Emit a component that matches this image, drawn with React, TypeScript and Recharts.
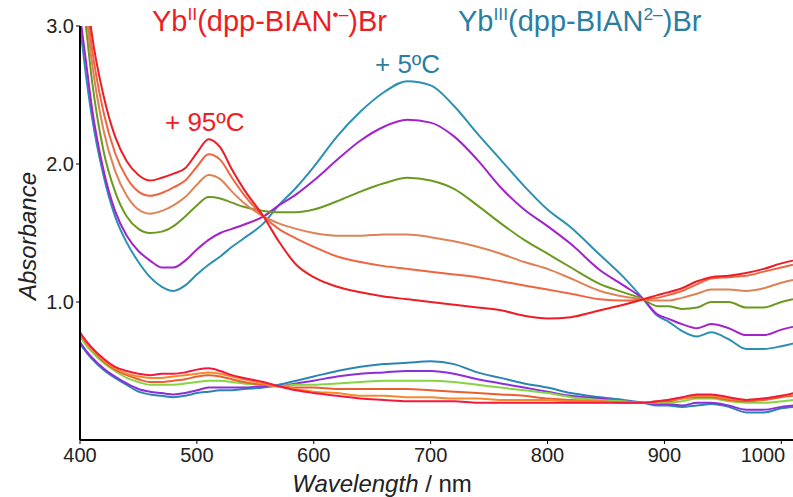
import { Line, LineChart, XAxis, YAxis } from "recharts";

// wavelength grid (nm)
const wavelengths = [
  400, 405, 410, 420, 430, 440, 450, 460, 470, 480, 490, 500, 510, 520, 530,
  540, 557, 570, 585, 600, 620, 640, 660, 680, 700, 720, 740, 760, 780, 800,
  820, 845, 865, 882, 894, 903, 915, 928, 940, 955, 970, 985, 1000, 1010,
];

// upper set (from +95 °C to +5 °C)
const hiRed = [
  3.6, 3.3, 2.95, 2.5, 2.2, 2.02, 1.92, 1.88, 1.9, 1.93, 1.97, 2.08, 2.18,
  2.12, 1.96, 1.82, 1.62, 1.44, 1.27, 1.18, 1.11, 1.07, 1.04, 1.02, 1.0, 0.98,
  0.96, 0.94, 0.9, 0.88, 0.89, 0.94, 0.98, 1.02, 1.05, 1.07, 1.1, 1.15, 1.18,
  1.19, 1.21, 1.24, 1.28, 1.3,
];
const hiOrange = [
  3.5, 3.2, 2.85, 2.38, 2.08, 1.9, 1.8, 1.77, 1.79, 1.83, 1.88, 1.98, 2.07,
  2.03, 1.9, 1.78, 1.62, 1.53, 1.46, 1.4, 1.33, 1.29, 1.26, 1.24, 1.22, 1.2,
  1.18, 1.15, 1.12, 1.09, 1.06, 1.02, 1.01, 1.02, 1.03, 1.05, 1.08, 1.13,
  1.17, 1.18, 1.19, 1.22, 1.25, 1.27,
];
const hiSalmon = [
  3.4, 3.1, 2.75, 2.25, 1.95, 1.77, 1.67, 1.64, 1.66, 1.7, 1.76, 1.85, 1.92,
  1.89, 1.8, 1.72, 1.62, 1.57, 1.53, 1.5, 1.48, 1.48, 1.49, 1.49, 1.47, 1.44,
  1.4, 1.35, 1.29, 1.24, 1.17, 1.08, 1.04, 1.02, 1.01, 1.01, 1.03, 1.06, 1.09,
  1.09, 1.08, 1.1, 1.14, 1.16,
];
const hiOlive = [
  3.3, 3.0, 2.62, 2.1, 1.8, 1.62, 1.53, 1.5, 1.51, 1.55, 1.62, 1.7, 1.76,
  1.75, 1.72, 1.69, 1.66, 1.65, 1.65, 1.67, 1.73, 1.8, 1.86, 1.9, 1.88, 1.82,
  1.7, 1.57, 1.45, 1.35, 1.25, 1.13, 1.07, 1.02, 0.97, 0.97, 0.95, 0.96, 1.0,
  1.0, 0.96, 0.96, 1.0, 1.02,
];
const hiPurple = [
  3.08, 2.75, 2.42, 1.96, 1.66, 1.48, 1.37, 1.3, 1.25, 1.25, 1.3, 1.38, 1.45,
  1.5, 1.53, 1.56, 1.62, 1.7, 1.78, 1.88, 2.03, 2.17, 2.27, 2.32, 2.3, 2.2,
  2.03, 1.83, 1.67, 1.55, 1.42, 1.23, 1.12, 1.02, 0.91, 0.88, 0.84, 0.81,
  0.84, 0.81, 0.76, 0.76, 0.8, 0.82,
];
const hiTeal = [
  3.0, 2.65, 2.35, 1.92, 1.62, 1.43, 1.29, 1.18, 1.11, 1.08, 1.12, 1.2, 1.27,
  1.33, 1.4, 1.46, 1.57, 1.7, 1.83, 1.98, 2.2, 2.38, 2.52, 2.6, 2.57, 2.42,
  2.22, 2.03, 1.84, 1.67, 1.54, 1.34, 1.18, 1.02, 0.9, 0.86, 0.79, 0.75,
  0.78, 0.73, 0.66, 0.66, 0.68, 0.7,
];

// lower set
const loRed = [
  0.78, 0.72, 0.67, 0.59, 0.53, 0.5, 0.48, 0.47, 0.48, 0.48, 0.49, 0.51, 0.52,
  0.5, 0.47, 0.45, 0.42, 0.39, 0.36, 0.34, 0.32, 0.3, 0.29, 0.28, 0.28, 0.28,
  0.27, 0.27, 0.27, 0.27, 0.27, 0.27, 0.27, 0.27, 0.28, 0.29, 0.31, 0.33,
  0.33, 0.31, 0.29, 0.3, 0.32, 0.34,
];
const loOrange = [
  0.77, 0.71, 0.66, 0.58, 0.52, 0.48, 0.46, 0.45, 0.45, 0.46, 0.47, 0.48,
  0.49, 0.48, 0.46, 0.44, 0.41, 0.39, 0.37, 0.35, 0.34, 0.32, 0.32, 0.31,
  0.31, 0.3, 0.3, 0.29, 0.29, 0.29, 0.28, 0.28, 0.27, 0.27, 0.28, 0.29, 0.3,
  0.32, 0.32, 0.3, 0.29, 0.3, 0.32, 0.33,
];
const loCoral = [
  0.77, 0.71, 0.66, 0.57, 0.51, 0.47, 0.44, 0.42, 0.42, 0.43, 0.44, 0.46,
  0.47, 0.46, 0.44, 0.42, 0.4, 0.39, 0.38, 0.38, 0.37, 0.37, 0.37, 0.37,
  0.36, 0.35, 0.34, 0.33, 0.32, 0.3, 0.29, 0.28, 0.27, 0.27, 0.28, 0.28, 0.3,
  0.31, 0.31, 0.29, 0.28, 0.29, 0.31, 0.32,
];
const loGreen = [
  0.75, 0.69, 0.64, 0.56, 0.5, 0.45, 0.42, 0.4, 0.4, 0.4, 0.41, 0.42, 0.43,
  0.43, 0.42, 0.41, 0.4, 0.39, 0.4, 0.4, 0.41, 0.42, 0.43, 0.43, 0.43, 0.42,
  0.4, 0.38, 0.36, 0.34, 0.31, 0.29, 0.28, 0.27, 0.27, 0.27, 0.28, 0.3, 0.3,
  0.28, 0.27, 0.27, 0.28, 0.29,
];
const loPurple = [
  0.71, 0.65, 0.6, 0.52, 0.46, 0.41, 0.37, 0.35, 0.34, 0.33, 0.34, 0.36,
  0.38, 0.38, 0.38, 0.38, 0.39, 0.39, 0.41, 0.43, 0.46, 0.48, 0.49, 0.5, 0.5,
  0.48, 0.44, 0.41, 0.38, 0.35, 0.32, 0.3, 0.28, 0.27, 0.26, 0.26, 0.25,
  0.27, 0.27, 0.25, 0.22, 0.22, 0.24, 0.25,
];
const loTeal = [
  0.7, 0.64, 0.59, 0.51, 0.45, 0.4, 0.35, 0.33, 0.32, 0.31, 0.32, 0.34, 0.35,
  0.36, 0.36, 0.37, 0.38, 0.4, 0.43, 0.46, 0.5, 0.53, 0.55, 0.56, 0.57, 0.55,
  0.49, 0.45, 0.41, 0.38, 0.34, 0.31, 0.29, 0.27, 0.25, 0.25, 0.24, 0.25,
  0.26, 0.24, 0.2, 0.2, 0.23, 0.24,
];

const xTicks = [400, 500, 600, 700, 800, 900, 1000];
const yTicks = [1, 2, 3];

const series = [
  { key: "loTeal", values: loTeal, color: "#2b84b3" },
  { key: "loPurple", values: loPurple, color: "#8c2fd8" },
  { key: "loGreen", values: loGreen, color: "#86d444" },
  { key: "loCoral", values: loCoral, color: "#e8602e" },
  { key: "loOrange", values: loOrange, color: "#f58a2a" },
  { key: "loRed", values: loRed, color: "#f2183e" },
  { key: "hiTeal", values: hiTeal, color: "#2c90b4" },
  { key: "hiPurple", values: hiPurple, color: "#a322cc" },
  { key: "hiOlive", values: hiOlive, color: "#6c991f" },
  { key: "hiSalmon", values: hiSalmon, color: "#df8256" },
  { key: "hiOrange", values: hiOrange, color: "#f0643f" },
  { key: "hiRed", values: hiRed, color: "#ee1c24" },
];

const data = wavelengths.map((w, i) => {
  const row: Record<string, number> = { w };
  series.forEach((s) => (row[s.key] = s.values[i]));
  return row;
});

const RED = "#ee1d23";
const TEAL = "#2a7ea2";
const FONT = "'Liberation Sans', Arial, sans-serif";

const sup = (t: string) => (
  <span style={{ fontSize: "0.6em", position: "relative", top: "-0.65em" }}>
    {t}
  </span>
);

const txt = (left: number, top: number, color: string, size: number) => ({
  position: "absolute" as const,
  left,
  top,
  color,
  fontSize: size,
  lineHeight: 1,
  whiteSpace: "nowrap" as const,
});

// last label sits against the right edge, nudge it in
const XTick = (props: any) => {
  const { x, y, payload } = props;
  const dx = payload.value === 1000 ? -14 : 0;
  return (
    <text
      x={x + dx}
      y={y + 16}
      textAnchor="middle"
      fontSize={20}
      fill="#222"
      fontFamily={FONT}
    >
      {payload.value}
    </text>
  );
};

export default function App() {
  return (
    <div
      style={{
        position: "absolute",
        left: 0,
        top: 0,
        width: 793,
        height: 497,
        background: "#fff",
        fontFamily: FONT,
      }}
    >
      <LineChart
        width={793}
        height={497}
        data={data}
        margin={{ top: 26, right: 0, bottom: 0, left: 0 }}
      >
        <XAxis
          dataKey="w"
          type="number"
          domain={[400, 1010]}
          ticks={xTicks}
          allowDataOverflow
          height={57}
          axisLine={{ stroke: "#000", strokeWidth: 2 }}
          tickLine={{ stroke: "#000" }}
          tickSize={4}
          tick={<XTick />}
        />
        <YAxis
          type="number"
          domain={[0, 3]}
          ticks={yTicks}
          allowDataOverflow
          width={80}
          tickFormatter={(v) => Number(v).toFixed(1)}
          axisLine={{ stroke: "#000", strokeWidth: 2 }}
          tickLine={{ stroke: "#000" }}
          tickSize={4}
          tick={{ fontSize: 20, fill: "#222", fontFamily: FONT }}
        />
        {series.map((s) => (
          <Line
            key={s.key}
            dataKey={s.key}
            type="monotone"
            stroke={s.color}
            strokeWidth={2}
            dot={false}
            isAnimationActive={false}
          />
        ))}
      </LineChart>

      <div style={txt(152, 7, RED, 29)}>
        Yb{sup("II")}(dpp-BIAN{sup("•–")})Br
      </div>
      <div style={txt(458, 7, TEAL, 29)}>
        Yb{sup("III")}(dpp-BIAN{sup("2–")})Br
      </div>
      <div style={txt(165, 109, RED, 26)}>+ 95ºC</div>
      <div style={txt(375, 51, TEAL, 26)}>+ 5ºC</div>

      <div
        style={{
          position: "absolute",
          left: 28,
          top: 236,
          transform: "translate(-50%, -50%) rotate(-90deg)",
          fontSize: 24,
          fontStyle: "italic",
          color: "#222",
          whiteSpace: "nowrap",
        }}
      >
        Absorbance
      </div>
      <div
        style={{
          position: "absolute",
          left: 382,
          top: 484,
          transform: "translate(-50%, -50%)",
          fontSize: 24,
          color: "#222",
          whiteSpace: "nowrap",
        }}
      >
        <i>Wavelength</i> / nm
      </div>
    </div>
  );
}
